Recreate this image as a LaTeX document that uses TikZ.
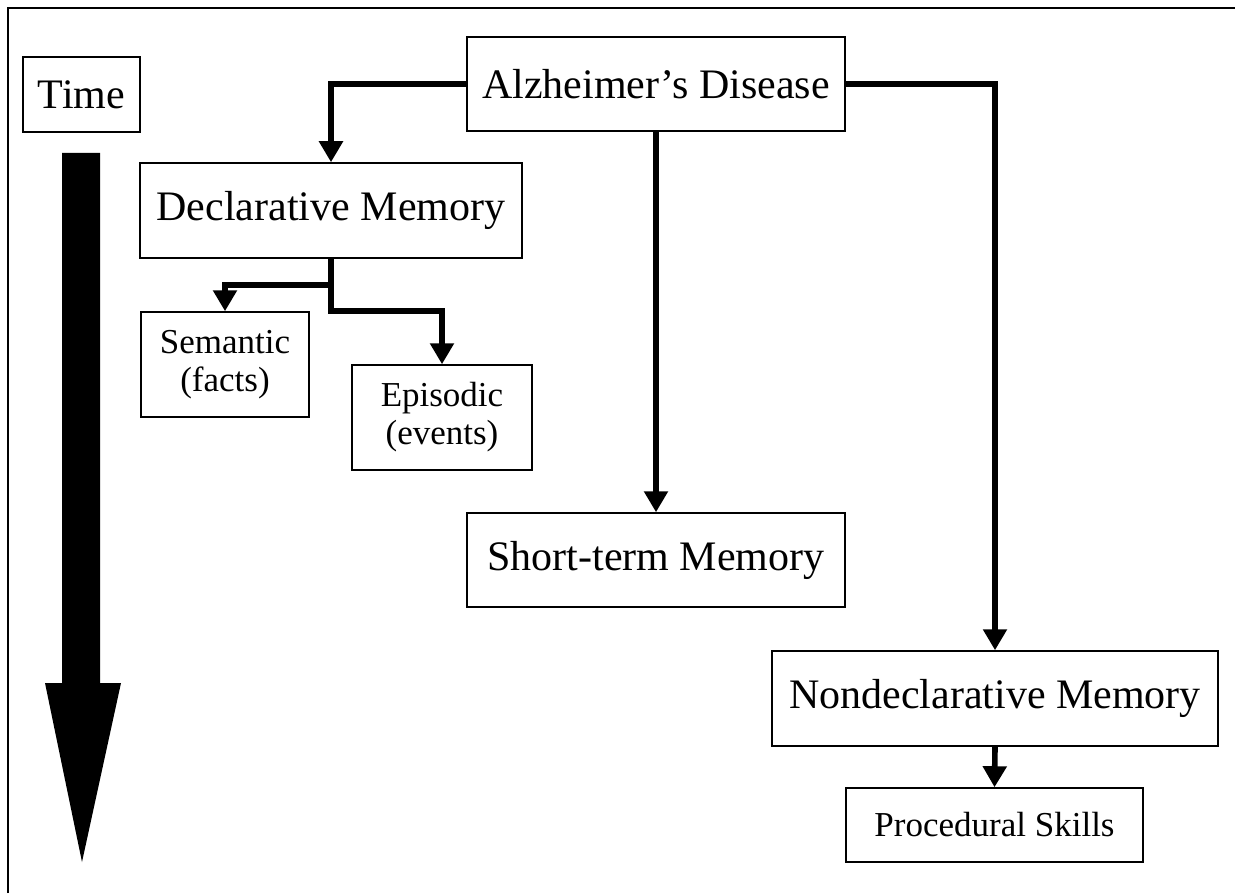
\documentclass[tikz,border=0pt]{standalone}
\usepackage{fontspec}
\setmainfont{Liberation Serif}
\usepackage{tikz}
\usetikzlibrary{arrows.meta}
\pgfdeclarelayer{edgelayer}
\pgfdeclarelayer{nodelayer}
\pgfsetlayers{edgelayer,nodelayer,main}
\tikzset{
  big box/.style={draw, line width=0.75pt, fill=white, inner sep=0pt, align=center,
    font=\fontsize{21}{23}\selectfont},
  small box/.style={draw, line width=0.75pt, fill=white, inner sep=0pt, align=center,
    font=\fontsize{17.5}{19}\selectfont},
  link/.style={line width=2.8pt, -{Triangle[width=11.5pt,length=10.5pt]}},
}

\begin{document}
\begin{tikzpicture}[x=0.5pt, y=-0.5pt]
	\useasboundingbox (0, 0) rectangle (1235, 893);
	\draw [line width=1pt] (8, 893) -- (8, 8) -- (1235, 8);
	\begin{pgfonlayer}{nodelayer}
		\node [style=big box, minimum width=58.5pt, minimum height=37.5pt] (0) at (81.5, 94.5) {Time};
		\node [style=big box, minimum width=189pt, minimum height=47pt] (1) at (656, 84) {Alzheimer’s Disease};
		\node [style=big box, minimum width=191pt, minimum height=47.5pt] (2) at (331, 210.5) {Declarative Memory};
		\node [style=small box, minimum width=84pt, minimum height=52.5pt] (3) at (225, 364.5) {Semantic\\(facts)};
		\node [style=small box, minimum width=90pt, minimum height=52.5pt] (4) at (442, 417.5) {Episodic\\(events)};
		\node [style=big box, minimum width=189pt, minimum height=47pt] (5) at (656, 560) {Short-term Memory};
		\node [style=big box, minimum width=223pt, minimum height=47.5pt] (6) at (995, 698.5) {Nondeclarative Memory};
		\node [style=small box, minimum width=148.5pt, minimum height=37pt] (7) at (994.5, 825) {Procedural Skills};
	\end{pgfonlayer}
	\begin{pgfonlayer}{edgelayer}
		\coordinate (8) at (331, 285);
		\coordinate (9) at (331, 311);
		\draw [style=link] (1.west) -| (2.north);
		\draw [style=link] (1.south) -- (5.north);
		\draw [style=link] (1.east) -| (6.north);
		\draw [style=link] (2.south) -- (8) -| (3.north);
		\draw [style=link] (8) -- (9) -| (4.north);
		\draw [style=link] (6.south) -- (7.north);
	\end{pgfonlayer}
	% time arrow
	\fill (62, 153) -- (100, 153) -- (100, 683) -- (121, 683) -- (82, 862) -- (45, 683) -- (62, 683) -- cycle;
\end{tikzpicture}
\end{document}
